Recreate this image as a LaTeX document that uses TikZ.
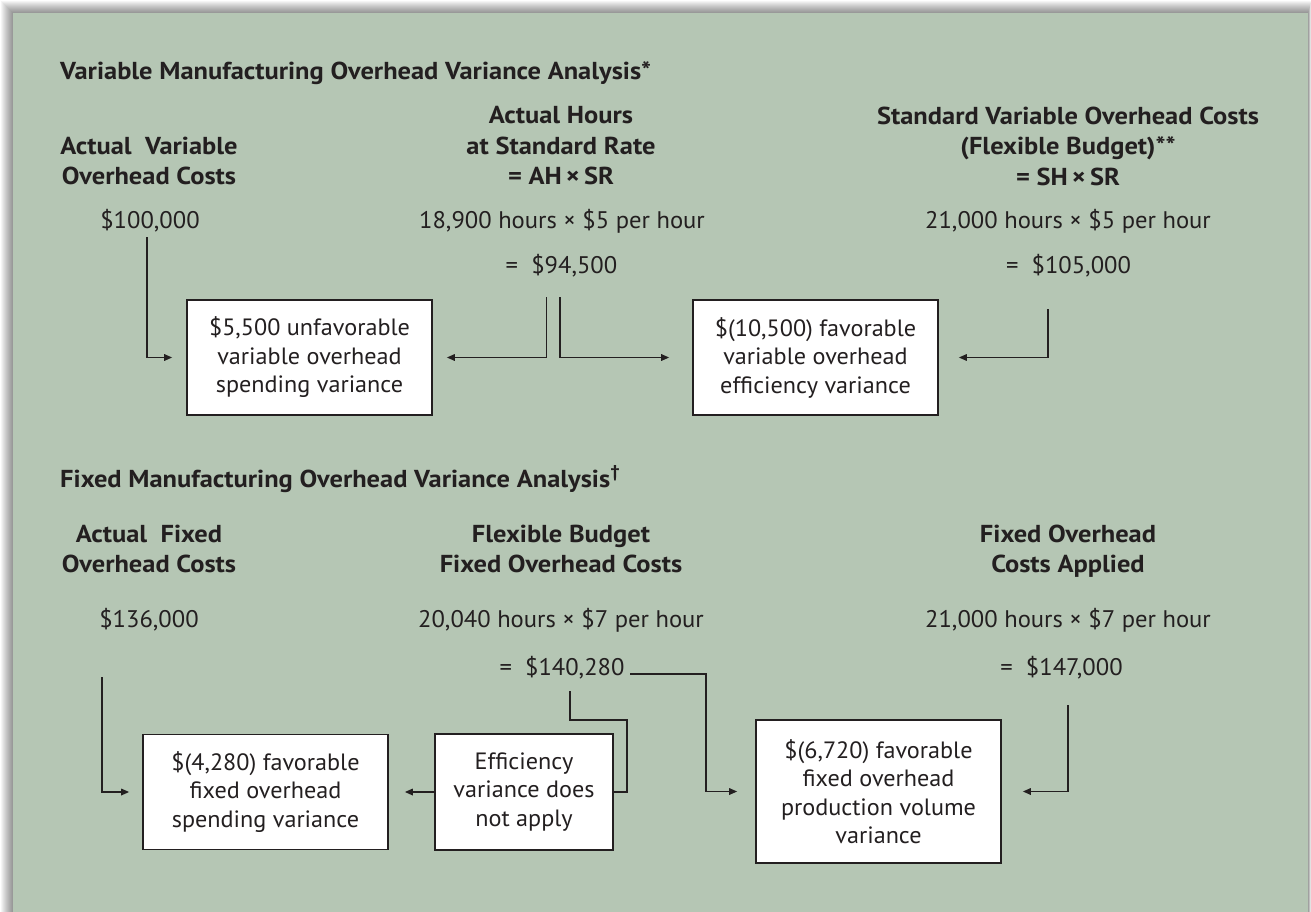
\documentclass[tikz,border=0pt]{standalone}
\usepackage{fontspec}
\setmainfont{PT Sans}[FakeStretch=1.025, BoldFeatures={FakeStretch=1.08}]
\usetikzlibrary{arrows.meta}
\definecolor{panel}{RGB}{181,198,180}
\definecolor{ink}{RGB}{35,31,32}
\begin{document}
\begin{tikzpicture}[x=1pt,y=-1pt,
  txt/.style={inner sep=0, text=ink, font=\fontsize{24}{30.5}\selectfont},
  val/.style={txt, anchor=base},
  hdr/.style={txt, align=center, anchor=north, font=\bfseries\fontsize{24.5}{30.5}\selectfont},
  ttl/.style={txt, anchor=base west, font=\bfseries\fontsize{24.5}{30.5}\selectfont},
  varbox/.style={draw=ink, line width=1.6, fill=white, inner sep=0, align=center,
    text=ink, font=\fontsize{23.6}{28.5}\selectfont, minimum width=245, minimum height=115},
  ln/.style={draw=ink, line width=1.6},
  arr/.style={ln, -{Triangle[length=8,width=6.5]}}
]
\useasboundingbox (0,0) rectangle (1311,912);
% page, soft shadow and panel
\fill[white] (0,0) rectangle (1311,912);
\foreach \i in {1,...,12}
  \fill[black, opacity=0.04] ({13-\i},{13-\i}) rectangle ({1308+0.25*\i},912);
\fill[panel] (13,13) rectangle (1308,912);

% ---------- variable overhead ----------
\node[ttl] (t1) at (60,80) {Variable Manufacturing Overhead Variance Analysis*};

\node[hdr] (h1) at (149,136.5) {Actual\ \ Variable\\Overhead Costs};
\node[hdr] (h2) at (561,106.5) {Actual Hours\\at Standard Rate\\= AH\,×\,SR};
\node[hdr] (h3) at (1068,106.5) {Standard Variable Overhead Costs\\(Flexible Budget)**\\= SH\,×\,SR};

\node[val] (v1) at (150,228) {\$100,000};
\node[val] (v2) at (562,228) {18,900 hours × \$5 per hour};
\node[val] (v3) at (1068,228) {21,000 hours × \$5 per hour};
\node[val] (r2) at (561.5,273) {=\ \ \$94,500};
\node[val] (r3) at (1068.5,273) {=\ \ \$105,000};

\node[varbox] (b1) at (309.5,357.5) {\$5,500 unfavorable\\variable overhead\\spending variance};
\node[varbox] (b2) at (815.5,357.5) {\$(10,500) favorable\\variable overhead\\efficiency variance};

\coordinate (s1) at (147,237);
\coordinate (s2) at (546.5,297);
\coordinate (s3) at (560,297);
\coordinate (s4) at (1048,309);
\draw[arr, shorten >=14] (s1) |- (b1.west);
\draw[arr, shorten >=14] (s2) |- (b1.east);
\draw[arr, shorten >=23] (s3) |- (b2.west);
\draw[arr, shorten >=20] (s4) |- (b2.east);

% ---------- fixed overhead ----------
\node[ttl] (t2) at (60,487) {Fixed Manufacturing Overhead Variance Analysis\textsuperscript{†}};

\node[hdr] (h4) at (149,524.5) {Actual\ \ Fixed\\Overhead Costs};
\node[hdr] (h5) at (561,524.5) {Flexible Budget\\Fixed Overhead Costs};
\node[hdr] (h6) at (1068,524.5) {Fixed Overhead\\Costs Applied};

\node[val] (v4) at (149,627) {\$136,000};
\node[val] (v5) at (561,627) {20,040 hours × \$7 per hour};
\node[val] (v6) at (1068,627) {21,000 hours × \$7 per hour};
\node[val] (r5) at (562,675) {=\ \ \$140,280};
\node[val] (r6) at (1061.5,675) {=\ \ \$147,000};

\node[varbox] (b3) at (265.5,792) {\$(4,280) favorable\\fixed overhead\\spending variance};
\node[varbox, minimum width=178, minimum height=116] (b4) at (524,792)
  {Efficiency\\variance does\\not apply};
\node[varbox, minimum height=143] (b5) at (878.5,791.5)
  {\$(6,720) favorable\\fixed overhead\\production volume\\variance};

\coordinate (s5) at (102,677);
\coordinate (s7) at (570,691);
\coordinate (k7) at (627,720);
\coordinate (s8) at (630,674);
\coordinate (k8) at (706,674);
\coordinate (s9) at (1068,705);
\draw[arr, shorten >=13] (s5) |- (b3.west);
\draw[arr, shorten >=16] (b4.west) -- (b3.east);
\draw[ln] (s7) |- (k7) |- (b4.east);
\draw[arr, shorten >=18] (s8) -- (k8) |- (b5.west);
\draw[arr, shorten >=21] (s9) |- (b5.east);
\end{tikzpicture}
\end{document}
